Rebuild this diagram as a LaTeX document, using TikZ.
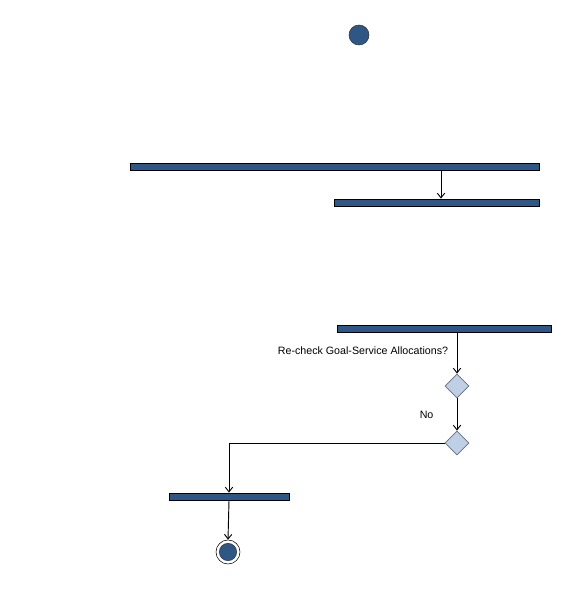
\documentclass[tikz,border=0pt]{standalone}
\usepackage{fontspec}
\setmainfont{Liberation Sans}
\usetikzlibrary{shapes.geometric, arrows.meta}
\definecolor{barblue}{RGB}{46,87,133}
\definecolor{decblue}{RGB}{190,207,230}
\definecolor{decline}{RGB}{100,110,125}
\tikzset{
  bar/.style={draw=black, fill=barblue, inner sep=0pt, minimum height=5.25pt, line width=0.6pt},
  decision/.style={diamond, draw=decline, fill=decblue, inner sep=0pt, minimum size=18pt, line width=0.6pt},
  flow/.style={-{Straight Barb[length=3.5pt,width=5.5pt]}, line width=0.7pt},
  lbl/.style={font=\fontsize{8}{9}\selectfont}
}
\begin{document}
\begin{tikzpicture}[x=0.75pt, y=-0.75pt]
    \useasboundingbox (0,0) rectangle (577,610);
    \node[circle, draw=black!80, fill=barblue, minimum size=15pt, inner sep=0pt] (start) at (359,35) {};
    \node[bar, minimum width=306.75pt] (bar1) at (334.5,166.5) {};
    \node[bar, minimum width=153.75pt] (bar2) at (436.5,202.5) {};
    \node[bar, minimum width=160.5pt] (bar3) at (444,328.5) {};
    \node[decision] (dec1) at (457,386) {};
    \node[decision] (dec2) at (457,443) {};
    \node[bar, minimum width=90pt] (bar4) at (229,496.5) {};
    \node[circle, draw=black, fill=white, minimum size=18pt, inner sep=0pt] (final) at (228,552) {};
    \node[circle, fill=barblue, draw=black!80, minimum size=13pt, inner sep=0pt] (finalin) at (final) {};
    \coordinate (join) at (441,170);
    \draw[flow] (join) -- (join |- bar2.north);
    \draw[flow] (dec1.north |- bar3.south) -- node[lbl, left, xshift=-3pt, yshift=2pt] {Re-check Goal-Service Allocations?} (dec1.north);
    \draw[flow] (dec1.south) -- node[lbl, left, xshift=-14pt] {No} (dec2.north);
    \draw[flow] (dec2.west) -| (bar4.north);
    \draw[flow] (bar4.south) -- (final.north);
    \end{tikzpicture}
\end{document}
